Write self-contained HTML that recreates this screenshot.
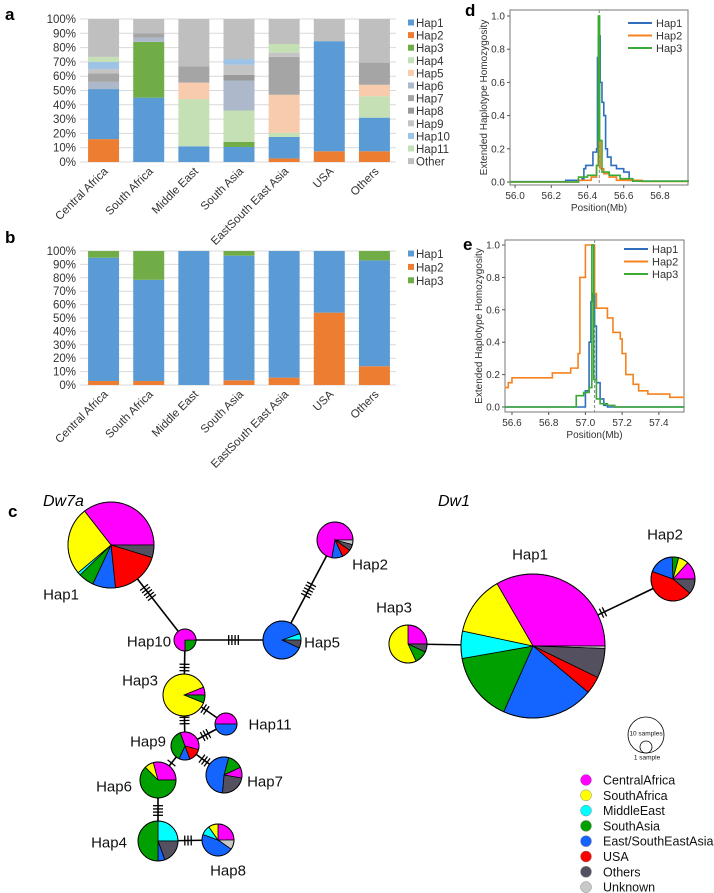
<!DOCTYPE html>
<html><head><meta charset="utf-8"><style>
html,body{margin:0;padding:0;background:#fff;}
svg{display:block;font-family:"Liberation Sans",sans-serif;}
</style></head><body>
<svg id="fig" width="714" height="893" viewBox="0 0 714 893" xmlns="http://www.w3.org/2000/svg">
<text x="5" y="20" font-size="17" font-weight="bold">a</text>
<text x="5" y="243" font-size="17" font-weight="bold">b</text>
<text x="8" y="517" font-size="17" font-weight="bold">c</text>
<text x="465" y="16" font-size="17" font-weight="bold">d</text>
<text x="463" y="250" font-size="17" font-weight="bold">e</text>
<text x="43" y="506" font-size="16" font-style="italic">Dw7a</text>
<text x="438" y="506" font-size="16" font-style="italic">Dw1</text>
</svg>
<script>
const NS='http://www.w3.org/2000/svg';
const svg=document.getElementById('fig');
function mk(tag,attrs,parent){const e=document.createElementNS(NS,tag);for(const k in attrs)e.setAttribute(k,attrs[k]);(parent||svg).appendChild(e);return e;}

// ---------- Panel a / b data ----------
const cats=['Central Africa','South Africa','Middle East','South Asia','EastSouth East Asia','USA','Others'];
const hapsA=['Hap2','Hap1','Hap3','Hap4','Hap5','Hap6','Hap7','Hap8','Hap9','Hap10','Hap11','Other'];
const legendA=['Hap1','Hap2','Hap3','Hap4','Hap5','Hap6','Hap7','Hap8','Hap9','Hap10','Hap11','Other'];
const aHap1=[35,45,11,10.5,15,77,23.5];
const aHap2=[16,0,0,0,2.5,7.5,7.5];
const aHap3=[0,39,0,3.5,0,0,0];
const aHap4=[0,0,33,22,3,0,15];
const aHap5=[0,0,11.5,0,26.5,0,8];
const aHap6=[5,3,0,21,0,0,0];
const aHap7=[6,3,11.5,0,26.5,0,15.5];
const aHap8=[0,0,0,4,0,0,0];
const aHap9=[3,0,0,7,3,0,0];
const aHap10=[5,0,0,4,0,0,0];
const aHap11=[3.5,0,0,0,6,0,0];
const aOther=[26.5,10,33,28,17.5,15.5,30.5];
const bHap1=[92,75.5,100,93,94.5,46,79];
const bHap2=[3,3,0,3.5,5.5,54,14];
const bHap3=[5,21.5,0,3.5,0,0,7];
const yTicks=[0,10,20,30,40,50,60,70,80,90,100];

const colA={Hap1:'#5b9bd5',Hap2:'#ed7d31',Hap3:'#70ad47',Hap4:'#c5e0b4',Hap5:'#f8cbad',Hap6:'#adb9ca',Hap7:'#a5a5a5',Hap8:'#9a9a9a',Hap9:'#c4c4c4',Hap10:'#9dc3e6',Hap11:'#c5e0b4',Other:'#bfbfbf'};
const seriesA={Hap1:aHap1,Hap2:aHap2,Hap3:aHap3,Hap4:aHap4,Hap5:aHap5,Hap6:aHap6,Hap7:aHap7,Hap8:aHap8,Hap9:aHap9,Hap10:aHap10,Hap11:aHap11,Other:aOther};
const seriesB={Hap2:bHap2,Hap1:bHap1,Hap3:bHap3};

function stackChart(prefix,top,bottom,order,series,legend,legTop,legStep,labelY){
  const x0=80,x1=396,bw=31,step=(x1-x0)/cats.length;
  const ys=v=>bottom-(bottom-top)*v/100;
  const xc=i=>x0+step*(i+0.5)+1;
  yTicks.forEach(t=>{
    const l=mk('line',{x1:x0,x2:x1,y1:ys(t),y2:ys(t),stroke:'#d9d9d9','stroke-width':1});
    
    
    const tx=mk('text',{x:x0-4,y:ys(t)+4,'font-size':11.5,'text-anchor':'end',fill:'#333'});
    tx.textContent=t+'%';
    
    
  });
  cats.forEach((c,i)=>{
    let acc=0;
    order.forEach(h=>{
      const v=series[h][i];
      if(v>0){
        const r=mk('rect',{x:xc(i)-bw/2,y:ys(acc+v),width:bw,height:ys(acc)-ys(acc+v),fill:colA[h]});
        
        
      }
      acc+=v;
    });
    const t=mk('text',{x:0,y:0,'font-size':11.5,'text-anchor':'end',fill:'#333',transform:`translate(${xc(i)+5},${labelY}) rotate(-45)`});
    t.textContent=c;
    
    
  });
  legend.forEach((h,k)=>{
    const y=legTop+k*legStep;
    const r=mk('rect',{x:408,y:y-3.5,width:6,height:6,fill:colA[h]});
    
    
    const t=mk('text',{x:416,y:y+4,'font-size':11.5,fill:'#333'});
    t.textContent=h;
    
    
  });
}
stackChart('chart-a',19,162,hapsA,seriesA,legendA,23,12.6,172);
stackChart('chart-b',251,385,['Hap2','Hap1','Hap3'],seriesB,['Hap1','Hap2','Hap3'],254,13.4,395);

// ---------- Panels d / e data ----------
const dHap1X=[55.97,56.28,56.37,56.38,56.39,56.43,56.45,56.455,56.46,56.47,56.48,56.49,56.5,56.51,56.53,56.56,56.6,56.63,56.7,56.955];
const dHap1Y=[0.002,0.01,0.02,0.08,0.1,0.18,0.2,0.75,0.88,0.6,0.48,0.4,0.2,0.15,0.1,0.08,0.06,0.01,0.005,0.002];
const dHap2X=[55.97,56.35,56.42,56.45,56.46,56.47,56.49,56.52,56.56,56.7,56.955];
const dHap2Y=[0,0.01,0.03,0.1,0.25,0.08,0.05,0.03,0.01,0.003,0];
const dHap3X=[55.97,56.35,56.4,56.45,56.46,56.467,56.48,56.52,56.58,56.65,56.955];
const dHap3Y=[0,0.03,0.04,0.1,1.0,0.25,0.06,0.04,0.02,0.005,0];
const dTicks=[56.0,56.2,56.4,56.6,56.8];
const eHap2X=[56.56,56.58,56.6,56.82,56.92,56.96,56.97,57.0,57.04,57.05,57.06,57.12,57.15,57.19,57.2,57.22,57.26,57.29,57.34,57.46,57.54];
const eHap2Y=[0.12,0.15,0.18,0.21,0.24,0.33,0.8,1.0,1.0,0.7,0.61,0.55,0.46,0.42,0.33,0.2,0.14,0.1,0.08,0.06,0.06];
const eHap1X=[56.56,56.98,57.0,57.02,57.03,57.04,57.05,57.06,57.08,57.1,57.12,57.54];
const eHap1Y=[0,0.0,0.1,0.4,0.65,0.7,0.5,0.15,0.05,0.01,0,0];
const eHap3X=[56.56,56.95,56.99,57.02,57.035,57.045,57.06,57.08,57.12,57.16,57.54];
const eHap3Y=[0,0.07,0.09,0.12,1.0,0.17,0.05,0.02,0.01,0,0];
const eTicks=[56.6,56.8,57.0,57.2,57.4];
const ehhTicks=[0.0,0.2,0.4,0.6,0.8,1.0];

function ehh(prefix,bx0,bx1,by0,by1,xmin,xmax,y0px,y1px,xt,series,core,legY){
  const sx=v=>bx0+(v-xmin)/(xmax-xmin)*(bx1-bx0);
  const sy=v=>y0px-(y0px-y1px)*v;
  const b=mk('rect',{x:bx0,y:by0,width:bx1-bx0,height:by1-by0,fill:'none',stroke:'#777','stroke-width':1});
  
  
  ehhTicks.forEach(t=>{
    const l=mk('line',{x1:bx0-3,x2:bx0,y1:sy(t),y2:sy(t),stroke:'#555'});
    
    
    const tx=mk('text',{x:bx0-5,y:sy(t)+3.5,'font-size':10,'text-anchor':'end',fill:'#333'});
    tx.textContent=t.toFixed(1);
    
    
  });
  xt.forEach(t=>{
    const l=mk('line',{x1:sx(t),x2:sx(t),y1:by1,y2:by1+3,stroke:'#555'});
    
    
    const tx=mk('text',{x:sx(t),y:by1+14,'font-size':10,'text-anchor':'middle',fill:'#333'});
    tx.textContent=t.toFixed(1);
    
    
  });
  const xl=mk('text',{x:(bx0+bx1)/2,y:by1+26,'font-size':10,'text-anchor':'middle',fill:'#333'});
  xl.textContent='Position(Mb)';
  
  
  const yl=mk('text',{x:0,y:0,'font-size':10,'text-anchor':'middle',fill:'#333',transform:`translate(${bx0-23},${(by0+by1)/2}) rotate(-90)`});
  yl.textContent='Extended Haplotype Homozygosity';
  
  
  const dl=mk('line',{x1:sx(core),x2:sx(core),y1:by0,y2:by1,stroke:'#888','stroke-dasharray':'3,2'});
  
  
  series.forEach((s,k)=>{
    let pts=[];
    s.x.forEach((v,i)=>{ if(i>0) pts.push(sx(v)+','+sy(s.y[i-1])); pts.push(sx(v)+','+sy(s.y[i])); });
    const p=mk('polyline',{points:pts.join(' '),fill:'none',stroke:s.c,'stroke-width':1.6});
    
    
    const ly=legY+k*12.5;
    const ll=mk('line',{x1:bx1-60,x2:bx1-36,y1:ly,y2:ly,stroke:s.c,'stroke-width':2});
    
    
    const lt=mk('text',{x:bx1-32,y:ly+4,'font-size':11,fill:'#333'});
    lt.textContent=s.n;
    
    
  });
}
const cBlue='#2f6ebd',cOrange='#f5821f',cGreen='#3aa935';
ehh('chart-d',510,688,10,185,55.972,56.955,182,16,dTicks,
  [{n:'Hap1',x:dHap1X,y:dHap1Y,c:cBlue},{n:'Hap2',x:dHap2X,y:dHap2Y,c:cOrange},{n:'Hap3',x:dHap3X,y:dHap3Y,c:cGreen}],56.465,23);
ehh('chart-e',505,684,240,412,56.562,57.537,407,245,eTicks,
  [{n:'Hap1',x:eHap1X,y:eHap1Y,c:cBlue},{n:'Hap2',x:eHap2X,y:eHap2Y,c:cOrange},{n:'Hap3',x:eHap3X,y:eHap3Y,c:cGreen}],57.05,249);

// ---------- Panel c networks ----------
const PC={M:'#ff00ff',Y:'#ffff00',C:'#00ffff',G:'#00a000',B:'#1464ff',R:'#ff0000',K:'#555060',U:'#c8c8c8'};
function edge(name,a,b,n){
  const l=mk('line',{x1:a[0],y1:a[1],x2:b[0],y2:b[1],stroke:'#000','stroke-width':1.6});
  
  
  const mx=(a[0]+b[0])/2,my=(a[1]+b[1])/2,dx=b[0]-a[0],dy=b[1]-a[1],L=Math.hypot(dx,dy),ux=dx/L,uy=dy/L;
  for(let i=0;i<n;i++){
    const o=(i-(n-1)/2)*3.2,cx=mx+ux*o,cy=my+uy*o;
    const t=mk('line',{x1:cx-uy*5,y1:cy+ux*5,x2:cx+uy*5,y2:cy-ux*5,stroke:'#000','stroke-width':1.3});
    
    
  }
}
function pie(name,cx,cy,r,start,slices){
  let a=start;
  slices.forEach(([k,d])=>{
    const a1=a*Math.PI/180,a2=(a+d)*Math.PI/180;
    const p=`M${cx},${cy} L${cx+r*Math.cos(a1)},${cy+r*Math.sin(a1)} A${r},${r} 0 ${d>180?1:0} 1 ${cx+r*Math.cos(a2)},${cy+r*Math.sin(a2)} Z`;
    const s=mk('path',{d:p,fill:PC[k],stroke:'#000','stroke-width':0.8});
    
    
    a+=d;
  });
  const c=mk('circle',{cx,cy,r,fill:'none',stroke:'#000','stroke-width':0.9});
  
  
}
function lab(name,x,y,t,fs){
  const e=mk('text',{x,y,'font-size':fs||15,'text-anchor':'middle','dominant-baseline':'central',fill:'#111'});
  e.textContent=t;
  
  
}
const N={h1:[111,545],h10:[185,640],h5:[282,640],h2:[335,540],h3:[184,695],h11:[226,724],h9:[185,746],h7:[224,775],h6:[158,780],h4:[158,841],h8:[218,840]};
edge('edge-hap1-hap10',N.h1,N.h10,5);
edge('edge-hap10-hap5',N.h10,N.h5,4);
edge('edge-hap5-hap2',N.h5,N.h2,5);
edge('edge-hap10-hap3',N.h10,N.h3,3);
edge('edge-hap3-hap11',N.h3,N.h11,2);
edge('edge-hap3-hap9',N.h3,N.h9,3);
edge('edge-hap9-hap11',N.h9,N.h11,3);
edge('edge-hap9-hap6',N.h9,N.h6,1);
edge('edge-hap9-hap7',N.h9,N.h7,3);
edge('edge-hap6-hap4',N.h6,N.h4,4);
edge('edge-hap4-hap8',N.h4,N.h8,3);
pie('dw7a-hap1',111,545,43,-128,[['M',128],['K',17],['R',67],['B',31],['G',21],['C',4],['Y',92]]);
pie('dw7a-hap10',185,640,11,0,[['G',90],['M',270]]);
pie('dw7a-hap5',282,640,19,-20,[['C',20],['K',25],['B',315]]);
pie('dw7a-hap2',335,540,18,100,[['M',260],['U',15],['K',20],['R',30],['B',35]]);
pie('dw7a-hap3',184,695,21,-22,[['M',22],['G',22],['Y',316]]);
pie('dw7a-hap11',226,724,11,180,[['M',180],['B',180]]);
pie('dw7a-hap9',185,746,14,-110,[['M',125],['R',55],['B',45],['G',135]]);
pie('dw7a-hap7',224,775,18,-75,[['G',50],['M',35],['K',85],['B',190]]);
pie('dw7a-hap6',158,780,18,-135,[['Y',30],['M',105],['G',225]]);
pie('dw7a-hap4',158,841,20,-90,[['C',90],['K',70],['B',20],['G',180]]);
pie('dw7a-hap8',218,840,16,-90,[['M',90],['U',35],['B',165],['C',35],['Y',35]]);
lab('dw7a-hap1-label',61,595,'Hap1');
lab('dw7a-hap10-label',149,642,'Hap10');
lab('dw7a-hap5-label',322,643,'Hap5');
lab('dw7a-hap2-label',370,565,'Hap2');
lab('dw7a-hap3-label',140,681,'Hap3');
lab('dw7a-hap11-label',270,725,'Hap11');
lab('dw7a-hap9-label',148,742,'Hap9');
lab('dw7a-hap7-label',265,782,'Hap7');
lab('dw7a-hap6-label',114,787,'Hap6');
lab('dw7a-hap4-label',109,843,'Hap4');
lab('dw7a-hap8-label',228,871,'Hap8');

const D={h1:[533,646],h3:[408,644],h2:[673,579]};
edge('dw1-edge-hap3-hap1',D.h3,D.h1,1);
edge('dw1-edge-hap1-hap2',D.h1,D.h2,2);
pie('dw1-hap1',533,646,72,-120,[['M',120],['U',2],['K',24],['R',14],['B',74],['G',56],['C',22],['Y',48]]);
pie('dw1-hap3',408,644,19,-90,[['M',90],['K',25],['G',40],['Y',205]]);
pie('dw1-hap2',673,579,22,-48,[['M',48],['K',40],['R',160],['B',68],['G',17],['Y',27]]);
lab('dw1-hap1-label',530,555,'Hap1');
lab('dw1-hap2-label',665,535,'Hap2');
lab('dw1-hap3-label',394,608,'Hap3');

// size legend
const sc1=mk('circle',{cx:646,cy:735,r:18,fill:'none',stroke:'#000','stroke-width':0.8});


const sc2=mk('circle',{cx:646,cy:747,r:6,fill:'none',stroke:'#000','stroke-width':0.8});


lab('size-legend-10-label',646,734,'10 samples',6.5);
lab('size-legend-1-label',647,758,'1 sample',6.5);

const regions=['CentralAfrica','SouthAfrica','MiddleEast','SouthAsia','East/SouthEastAsia','USA','Others','Unknown'];
const regionKeys=['M','Y','C','G','B','R','K','U'];
regions.forEach((r,i)=>{
  const y=780+i*15.3;
  const c=mk('circle',{cx:586,cy:y,r:5.5,fill:PC[regionKeys[i]],stroke:'#888','stroke-width':0.5});
  
  
  const t=mk('text',{x:603,y:y+4.5,'font-size':12.5,fill:'#111'});
  t.textContent=r;
  
  
});
</script>
</body></html>
